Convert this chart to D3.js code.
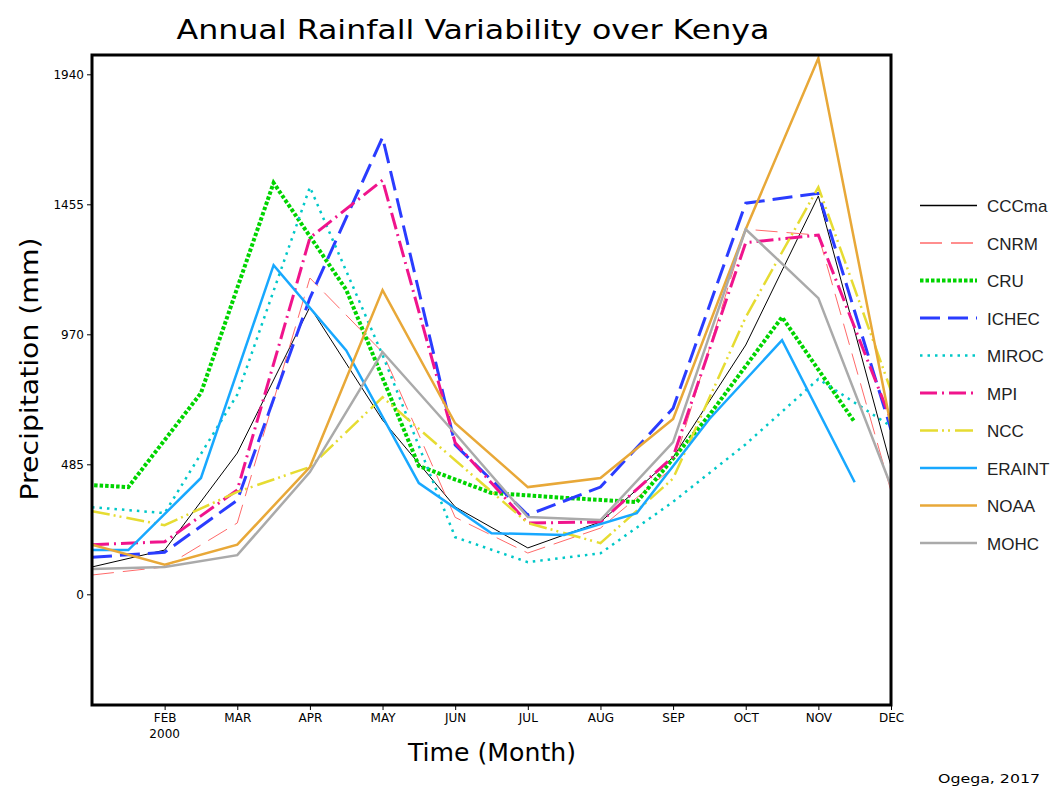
<!DOCTYPE html>
<html>
<head>
<meta charset="utf-8">
<style>
  body { margin: 0; background: #fff; }
  svg { display: block; }
</style>
</head>
<body>
<svg id="chart" width="1058" height="790"></svg>
<script src="https://cdn.jsdelivr.net/npm/d3@7"></script>
<script>
/* global d3 */

//---------data (mm)---------//
const months = ['JAN', 'FEB', 'MAR', 'APR', 'MAY', 'JUN', 'JUL', 'AUG', 'SEP', 'OCT', 'NOV', 'DEC']
const yTicks = [0, 485, 970, 1455, 1940]

// model runs, stamped on the 1st of each month (Jan..Dec)
const cccma = [102, 165, 527, 1072, 650, 326, 173, 270, 511, 930, 1486, 478]
const cnrm = [72, 102, 266, 1180, 903, 287, 154, 247, 474, 1362, 1340, 385]
const ichec = [138, 157, 351, 1105, 1705, 557, 296, 400, 694, 1459, 1496, 615]
const miroc = [325, 303, 745, 1519, 893, 213, 120, 153, 345, 560, 803, 627]
const mpi = [185, 196, 389, 1330, 1545, 565, 266, 270, 513, 1312, 1340, 650]
const ncc = [310, 258, 382, 475, 735, 500, 266, 191, 432, 1034, 1519, 760]
const noaa = [185, 110, 185, 475, 1135, 638, 400, 434, 654, 1362, 2000, 627]
const mohc = [94, 102, 146, 456, 904, 600, 288, 277, 568, 1362, 1105, 404]

// obs / reanalysis, stamped mid-month (Dec of the year before .. Dec), no Dec value
const cru = [415, 400, 751, 1535, 1136, 479, 378, 360, 344, 669, 1034, 642, null]
const eraint = [165, 165, 434, 1228, 910, 415, 228, 221, 303, 654, 948, 418, null]

const series = [
  { name: 'CCCma', values: cccma, mid: false, color: '#000000', width: 1, dash: null },
  { name: 'CNRM', values: cnrm, mid: false, color: '#ff6a6a', width: 1, dash: '22,9' },
  { name: 'CRU', values: cru, mid: true, color: '#00d400', width: 4, dash: '3.5,2' },
  { name: 'ICHEC', values: ichec, mid: false, color: '#2a3cff', width: 3, dash: '20,8' },
  { name: 'MIROC', values: miroc, mid: false, color: '#00c8c8', width: 2.5, dash: '2.5,5' },
  { name: 'MPI', values: mpi, mid: false, color: '#f0148c', width: 3, dash: '17,5,2,5' },
  { name: 'NCC', values: ncc, mid: false, color: '#e6dc32', width: 2.5, dash: '18,4,2,4,2,5' },
  { name: 'ERAINT', values: eraint, mid: true, color: '#18a8ff', width: 2.5, dash: null },
  { name: 'NOAA', values: noaa, mid: false, color: '#e8a838', width: 2.5, dash: null },
  { name: 'MOHC', values: mohc, mid: false, color: '#aaaaaa', width: 2.5, dash: null }
]

//---------layout---------//
const plot = { left: 92, right: 891, top: 55, bottom: 705 }
const svg = d3.select('#chart')

const x = d3.scaleLinear().domain([0, 11]).range([plot.left, plot.right])
const y = d3.scaleLinear().domain([-413, 2012]).range([plot.bottom, plot.top])

svg.append('rect')
  .attr('width', 1058).attr('height', 790).attr('fill', '#fff')

svg.append('defs').append('clipPath').attr('id', 'clip')
  .append('rect')
  .attr('x', plot.left).attr('y', plot.top)
  .attr('width', plot.right - plot.left)
  .attr('height', plot.bottom - plot.top)

// turn a value array into {t, v} points; mid-month series begin half a month before Jan 1
function points (s) {
  return s.values.map((v, i) => ({ t: s.mid ? i - 0.5 : i, v: v }))
}

const line = d3.line()
  .defined(d => d.v !== null)
  .x(d => x(d.t))
  .y(d => y(d.v))

const lines = svg.append('g').attr('clip-path', 'url(#clip)')
series.forEach(s => {
  lines.append('path')
    .datum(points(s))
    .attr('d', line)
    .attr('fill', 'none')
    .attr('stroke', s.color)
    .attr('stroke-width', s.width)
    .attr('stroke-dasharray', s.dash)
    .attr('stroke-linejoin', 'miter')
})

//---------axes---------//
const tickFont = 'DejaVu Sans, sans-serif'

const yAxis = d3.axisLeft(y)
  .tickValues(yTicks)
  .tickSize(5)
  .tickPadding(3)
  .tickFormat(d3.format('d'))

const gy = svg.append('g')
  .attr('transform', `translate(${plot.left},0)`)
  .call(yAxis)
gy.select('.domain').remove()
gy.selectAll('text').attr('font-family', tickFont).attr('font-size', 12).attr('fill', '#000')
gy.selectAll('line').attr('stroke', '#000')

const xAxis = d3.axisBottom(x)
  .tickValues(d3.range(1, 12))
  .tickSize(5)
  .tickPadding(3)
  .tickFormat(i => months[i])

const gx = svg.append('g')
  .attr('transform', `translate(0,${plot.bottom})`)
  .call(xAxis)
gx.select('.domain').remove()
gx.selectAll('text').attr('font-family', tickFont).attr('font-size', 12).attr('fill', '#000')
gx.selectAll('line').attr('stroke', '#000')

// year under the first tick
svg.append('text')
  .attr('x', x(1)).attr('y', plot.bottom + 33)
  .attr('text-anchor', 'middle')
  .attr('font-family', tickFont).attr('font-size', 12)
  .text('2000')

// frame
svg.append('rect')
  .attr('x', plot.left).attr('y', plot.top)
  .attr('width', plot.right - plot.left)
  .attr('height', plot.bottom - plot.top)
  .attr('fill', 'none')
  .attr('stroke', '#000')
  .attr('stroke-width', 3)

//---------titles---------//
const labelFont = 'DejaVu Sans, sans-serif'

svg.append('text')
  .attr('x', 473).attr('y', 39)
  .attr('text-anchor', 'middle')
  .attr('font-family', labelFont).attr('font-size', 27)
  .attr('textLength', 593).attr('lengthAdjust', 'spacingAndGlyphs')
  .text('Annual Rainfall Variability over Kenya')

svg.append('text')
  .attr('transform', 'translate(38,369) rotate(-90)')
  .attr('text-anchor', 'middle')
  .attr('font-family', labelFont).attr('font-size', 24)
  .attr('textLength', 263).attr('lengthAdjust', 'spacingAndGlyphs')
  .text('Precipitation (mm)')

svg.append('text')
  .attr('x', 492).attr('y', 761)
  .attr('text-anchor', 'middle')
  .attr('font-family', labelFont).attr('font-size', 24)
  .attr('textLength', 168).attr('lengthAdjust', 'spacingAndGlyphs')
  .text('Time (Month)')

svg.append('text')
  .attr('x', 938).attr('y', 783)
  .attr('font-family', tickFont).attr('font-size', 13)
  .attr('textLength', 102).attr('lengthAdjust', 'spacingAndGlyphs')
  .text('Ogega, 2017')

//---------legend---------//
const legend = svg.append('g')
series.forEach((s, i) => {
  const ly = 205.5 + i * 37.5
  legend.append('line')
    .attr('x1', 920).attr('x2', 977)
    .attr('y1', ly).attr('y2', ly)
    .attr('stroke', s.color)
    .attr('stroke-width', Math.max(s.width, 1.5))
    .attr('stroke-dasharray', s.dash)
  legend.append('text')
    .attr('x', 987).attr('y', ly + 6.5)
    .attr('font-family', 'Liberation Sans, Arial, sans-serif')
    .attr('font-size', 17)
    .attr('fill', '#222')
    .text(s.name)
})
</script>
</body>
</html>
